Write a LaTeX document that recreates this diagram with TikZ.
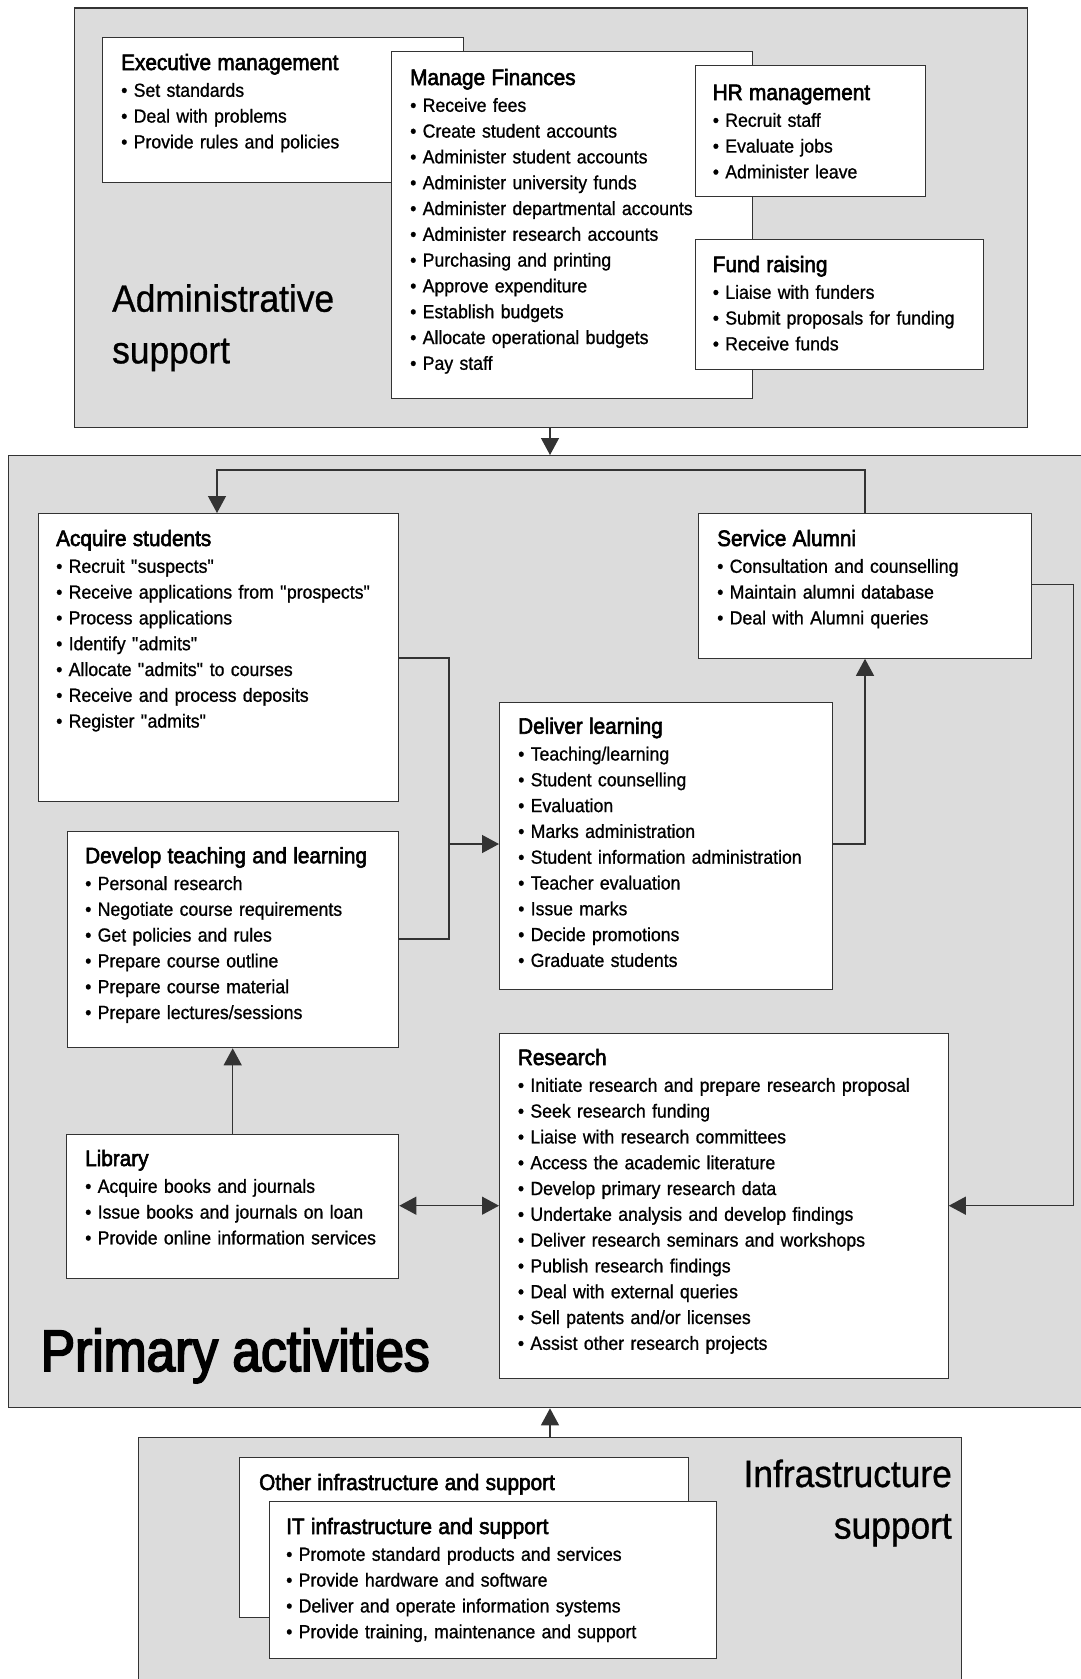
\documentclass[tikz,border=0pt]{standalone}
\usepackage{fontspec}
\setmainfont{Liberation Sans}[FakeStretch=0.93,FakeBold=0.9]
\newfontfamily\ttlfont{Liberation Sans}[FakeStretch=0.93,FakeBold=2.6]
\newfontfamily\primfont{Liberation Sans}[FakeStretch=0.88,FakeBold=3]
\newfontfamily\lblfont{Liberation Sans}[FakeStretch=0.93,FakeBold=0.8]
\usetikzlibrary{arrows.meta}
\definecolor{panel}{HTML}{DCDCDC}
\definecolor{edge}{HTML}{333333}
\tikzset{
 panelbox/.style={draw=edge, fill=panel, line width=1.3pt, inner sep=0pt, anchor=north west},
 wbox/.style={draw=edge, fill=white, line width=1.3pt, inner sep=0pt, anchor=north west},
 boxtext/.style={anchor=base west, inner sep=0pt, text width=440pt, align=left, font={\fontsize{19}{25.8}\selectfont}},
 conn/.style={draw=edge, line width=1.3pt},
 arr/.style={conn, -{Triangle[length=17pt,width=18pt]}},
 darr/.style={conn, {Triangle[length=17pt,width=18pt]}-{Triangle[length=17pt,width=18pt]}},
 biglabel/.style={inner sep=0pt, text width=320pt, font={\lblfont\fontsize{38}{51.6}\selectfont}},
}
\newcommand\ttl[1]{{\ttlfont\fontsize{22.3}{26}\selectfont #1\par}\vspace{1pt}}
\newcommand\q{\textquotedbl}
\begin{document}
\begin{tikzpicture}[x=1pt, y=-1pt]
\useasboundingbox (0,0) rectangle (1081,1679);

% ---------------- Administrative support ----------------
\node[panelbox, minimum width=952.8pt, minimum height=419.4pt] (admin) at (73.7,7.3) {};
\node[biglabel, anchor=base west, align=left] (admin-t) at (112,311.7) {Administrative\par support};

\node[wbox, minimum width=361pt, minimum height=145pt] (exec) at (102,37) {};
\node[boxtext] (exec-t) at ([shift={(19,33)}]exec.north west)
 {\ttl{Executive management}• Set standards\par • Deal with problems\par • Provide rules and policies};

\node[wbox, minimum width=361pt, minimum height=347pt] (fin) at (391,51) {};
\node[boxtext] (fin-t) at ([shift={(19,34)}]fin.north west)
 {\ttl{Manage Finances}• Receive fees\par • Create student accounts\par • Administer student accounts\par
  • Administer university funds\par • Administer departmental accounts\par • Administer research accounts\par
  • Purchasing and printing\par • Approve expenditure\par • Establish budgets\par
  • Allocate operational budgets\par • Pay staff};

\node[wbox, minimum width=230.4pt, minimum height=131pt] (hr) at (694.6,65) {};
\node[boxtext] (hr-t) at ([shift={(18,35)}]hr.north west)
 {\ttl{HR management}• Recruit staff\par • Evaluate jobs\par • Administer leave};

\node[wbox, minimum width=288.4pt, minimum height=130pt] (fund) at (694.6,239) {};
\node[boxtext] (fund-t) at ([shift={(18,33)}]fund.north west)
 {\ttl{Fund raising}• Liaise with funders\par • Submit proposals for funding\par • Receive funds};

% ---------------- Primary activities ----------------
\node[panelbox, minimum width=1076pt, minimum height=952pt] (prim) at (7.6,455) {};
\node[anchor=base west, inner sep=0pt, font={\primfont\fontsize{58.5}{60}\selectfont}] (prim-t)
 at ([shift={(33,916)}]prim.north west) {Primary activities};

\node[wbox, minimum width=360pt, minimum height=288pt] (acq) at (38,513) {};
\node[boxtext] (acq-t) at ([shift={(18,33)}]acq.north west)
 {\ttl{Acquire students}• Recruit \q suspects\q\par • Receive applications from \q prospects\q\par
  • Process applications\par • Identify \q admits\q\par • Allocate \q admits\q{} to courses\par
  • Receive and process deposits\par • Register \q admits\q};

\node[wbox, minimum width=333pt, minimum height=144.5pt] (sa) at (698,513) {};
\node[boxtext] (sa-t) at ([shift={(19,33)}]sa.north west)
 {\ttl{Service Alumni}• Consultation and counselling\par • Maintain alumni database\par • Deal with Alumni queries};

\node[wbox, minimum width=333pt, minimum height=287.3pt] (deliv) at (499,701.7) {};
\node[boxtext] (deliv-t) at ([shift={(19,32)}]deliv.north west)
 {\ttl{Deliver learning}• Teaching/learning\par • Student counselling\par • Evaluation\par
  • Marks administration\par • Student information administration\par • Teacher evaluation\par
  • Issue marks\par • Decide promotions\par • Graduate students};

\node[wbox, minimum width=331.5pt, minimum height=216.3pt] (dev) at (66.5,830.7) {};
\node[boxtext] (dev-t) at ([shift={(18.5,32.5)}]dev.north west)
 {\ttl{Develop teaching and learning}• Personal research\par • Negotiate course requirements\par
  • Get policies and rules\par • Prepare course outline\par • Prepare course material\par
  • Prepare lectures/sessions};

\node[wbox, minimum width=332pt, minimum height=144pt] (lib) at (66,1134) {};
\node[boxtext] (lib-t) at ([shift={(19,32)}]lib.north west)
 {\ttl{Library}• Acquire books and journals\par • Issue books and journals on loan\par
  • Provide online information services};

\node[wbox, minimum width=448.5pt, minimum height=345pt] (res) at (499,1033) {};
\node[boxtext] (res-t) at ([shift={(18.7,32)}]res.north west)
 {\ttl{Research}• Initiate research and prepare research proposal\par • Seek research funding\par
  • Liaise with research committees\par • Access the academic literature\par
  • Develop primary research data\par • Undertake analysis and develop findings\par
  • Deliver research seminars and workshops\par • Publish research findings\par
  • Deal with external queries\par • Sell patents and/or licenses\par • Assist other research projects};

% ---------------- Infrastructure support ----------------
\node[panelbox, minimum width=823.5pt, minimum height=260pt] (infra) at (137.5,1437) {};
\node[biglabel, anchor=base east, align=right] (infra-t) at (952,1487) {Infrastructure\par support};

\node[wbox, minimum width=449pt, minimum height=160pt] (other) at (238.6,1457) {};
\node[boxtext] (other-t) at ([shift={(20.4,33)}]other.north west)
 {\ttl{Other infrastructure and support}};

\node[wbox, minimum width=447pt, minimum height=157.3pt] (it) at (269,1500.7) {};
\node[boxtext] (it-t) at ([shift={(17,33.3)}]it.north west)
 {\ttl{IT infrastructure and support}• Promote standard products and services\par
  • Provide hardware and software\par • Deliver and operate information systems\par
  • Provide training, maintenance and support};

% ---------------- Connectors ----------------
\coordinate (xa) at (550,0);
\coordinate (xl) at (865,0);
\coordinate (xq) at (217,0);
\coordinate (xm) at (449,0);
\coordinate (xr) at (1073.5,0);
\coordinate (xlib) at (232.7,0);
\coordinate (yl) at (0,470);
\coordinate (ya) at (0,658);
\coordinate (yd) at (0,939);
\coordinate (ydl) at (0,844);
\coordinate (ysa) at (0,584.5);
\coordinate (yr) at (0,1205.7);

\draw[arr] (admin.south -| xa) -- (prim.north -| xa);
\draw[arr] (infra.north -| xa) -- (prim.south -| xa);
\draw[arr] (sa.north -| xl) -- (xl |- yl) -- (xq |- yl) -- (acq.north -| xq);
\draw[conn] (acq.east |- ya) -- (xm |- ya) -- (xm |- yd) -- (dev.east |- yd);
\draw[arr] (xm |- ydl) -- (deliv.west |- ydl);
\draw[arr] (deliv.east |- ydl) -- (xl |- ydl) -- (sa.south -| xl);
\draw[arr] (sa.east |- ysa) -- (xr |- ysa) -- (xr |- yr) -- (res.east |- yr);
\draw[arr] (lib.north -| xlib) -- (dev.south -| xlib);
\draw[darr] (lib.east |- yr) -- (res.west |- yr);
\end{tikzpicture}
\end{document}
